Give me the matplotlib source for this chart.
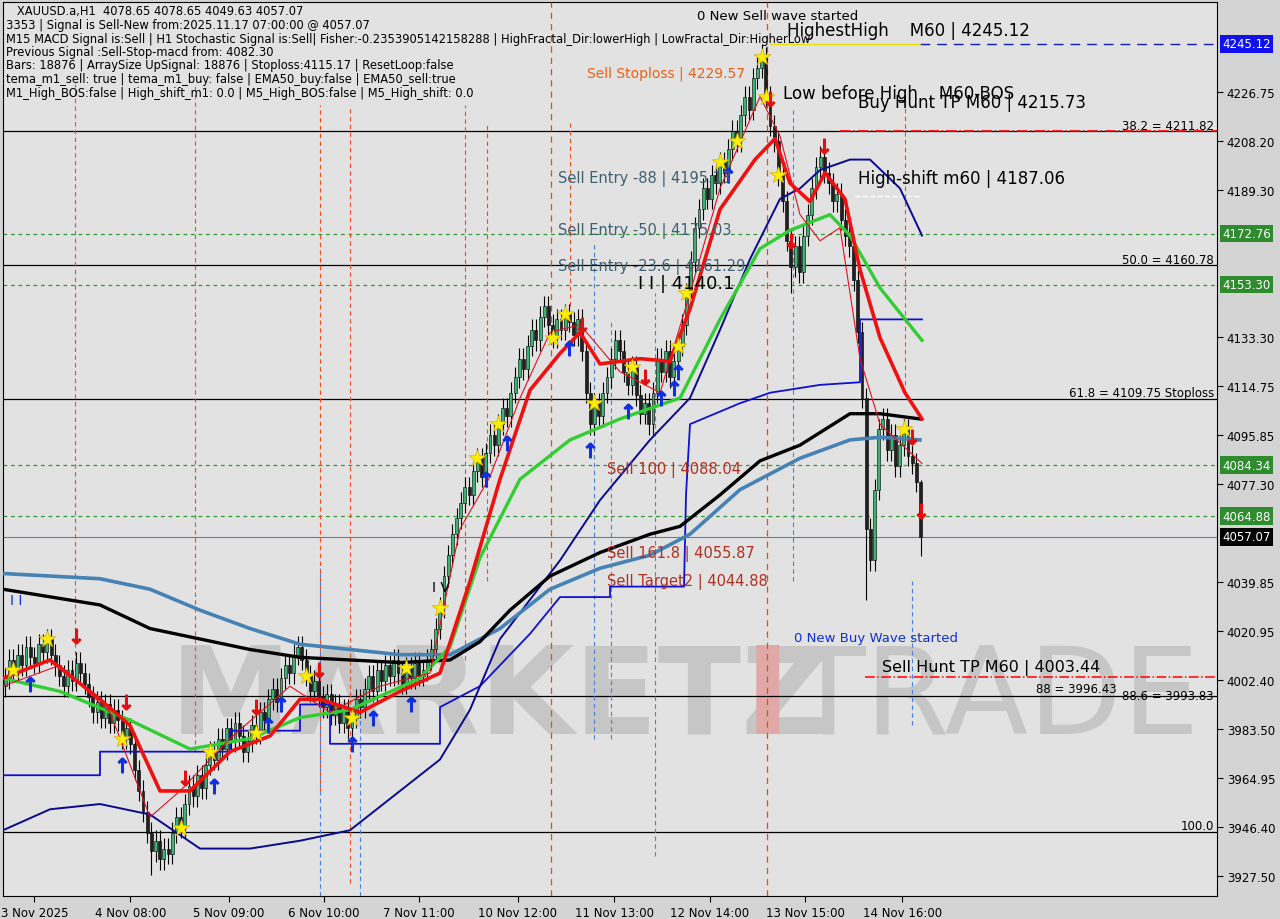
import matplotlib.pyplot as plt
import numpy as np

# hourly closes, XAUUSD H1, 3 Nov - 14 Nov 2025
closes = [
    4003, 4010, 4006, 4012, 4008, 4015, 4011, 4009, 4016, 4013,
    4018, 4012, 4008, 4004, 4000, 4006, 4002, 4009, 4005, 4001,
    3996, 3990, 3994, 3988, 3993, 3986, 3991, 3987, 3980, 3984,
    3978, 3968, 3960, 3952, 3944, 3937, 3941, 3934, 3938, 3936,
    3944, 3950, 3946, 3955, 3962, 3958, 3966, 3961, 3970, 3975,
    3972, 3980, 3976, 3984, 3979, 3986, 3981, 3975, 3979, 3985,
    3982, 3990, 3987, 3995, 3999, 3994, 4003, 4008, 4005, 4012,
    4015, 4010, 4004, 3998, 4002, 3996, 3992, 3997, 3989, 3993,
    3986, 3991, 3984, 3988, 3995, 3992, 3999, 4004, 3998, 4006,
    4002, 4008, 4004, 4010, 4005, 4001, 4007, 4003, 4009, 4004,
    4006, 4010, 4014, 4022, 4030, 4042, 4050, 4058, 4064, 4070,
    4076, 4073, 4082, 4087, 4080, 4089, 4096, 4092, 4100, 4106,
    4103, 4112, 4118, 4125, 4121, 4130, 4136, 4132, 4141, 4145,
    4138, 4133, 4140, 4136, 4142, 4139, 4134, 4140, 4128, 4112,
    4100, 4108, 4103, 4112, 4118, 4125, 4132, 4128, 4120, 4115,
    4122, 4111, 4104, 4108, 4100, 4112, 4125, 4120, 4128, 4118,
    4124, 4130, 4138, 4150, 4162, 4175, 4182, 4190, 4186, 4195,
    4192, 4200, 4196, 4205, 4212, 4208, 4218, 4225, 4220, 4232,
    4236, 4240, 4225, 4214, 4208, 4195, 4185, 4170, 4160, 4168,
    4158, 4172, 4180, 4190, 4198, 4202, 4196, 4192, 4185, 4188,
    4178, 4172, 4168, 4155, 4135, 4110, 4060, 4048, 4075, 4098,
    4102, 4090, 4096, 4084, 4092, 4098, 4088, 4085, 4078, 4057,
]
first_open = 4000
wick_spikes = {181: (4245.12, None), 35: (None, 3928), 206: (None, 4033),
               188: (None, 4150), 219: (4078.65, 4049.63)}

date_labels = ["3 Nov 2025", "4 Nov 08:00", "5 Nov 09:00", "6 Nov 10:00", "7 Nov 11:00",
               "10 Nov 12:00", "11 Nov 13:00", "12 Nov 14:00", "13 Nov 15:00", "14 Nov 16:00"]
date_bars = [7, 30, 53.6, 76.3, 99, 122.7, 145.7, 168.6, 191.4, 214.6]

price_ticks = [4226.75, 4208.20, 4189.30, 4133.30, 4114.75, 4095.85, 4077.30,
               4039.85, 4020.95, 4002.40, 3983.50, 3964.95, 3946.40, 3927.50]

# indicator lines: (pixel x, price) anchors
red_ema = [(3, 4003), (50, 4010), (100, 3995), (130, 3985), (160, 3960), (190, 3960),
           (230, 3975), (270, 3981), (300, 3995), (320, 3995), (360, 3990), (400, 3998),
           (440, 4005), (470, 4040), (500, 4079), (530, 4113), (560, 4127), (580, 4135),
           (600, 4123), (640, 4125), (670, 4124), (690, 4144), (720, 4182), (755, 4201),
           (775, 4209), (790, 4192), (810, 4185), (825, 4196), (845, 4186), (860, 4159),
           (880, 4133), (905, 4112), (922, 4102)]
green_ema = [(3, 4003), (60, 3998), (130, 3987), (190, 3976), (250, 3980), (300, 3988),
             (350, 3991), (420, 4003), (450, 4015), (480, 4049), (520, 4079), (570, 4094),
             (620, 4102), (680, 4110), (720, 4140), (760, 4167), (790, 4174), (830, 4180),
             (850, 4172), (880, 4152), (922, 4132)]
black_ma = [(3, 4037), (100, 4031), (150, 4022), (200, 4018), (250, 4014), (300, 4011),
            (350, 4010), (400, 4009), (450, 4010), (480, 4017), (510, 4029), (550, 4042),
            (600, 4051), (650, 4058), (680, 4061), (720, 4073), (760, 4086), (800, 4092),
            (850, 4104), (880, 4104), (920, 4102)]
blue_ma = [(3, 4043), (100, 4041), (150, 4037), (200, 4029), (250, 4022), (300, 4016),
           (350, 4014), (400, 4012), (450, 4012), (500, 4022), (550, 4037), (600, 4045),
           (650, 4050), (690, 4058), (740, 4075), (800, 4087), (850, 4094), (880, 4095),
           (920, 4094)]
navy_line = [(3, 3945), (50, 3953), (100, 3955), (150, 3951), (200, 3938), (250, 3938),
             (300, 3941), (350, 3945), (400, 3960), (440, 3972), (470, 3991), (500, 4018),
             (530, 4033), (560, 4048), (600, 4071), (650, 4094), (690, 4110), (720, 4136),
             (750, 4163), (780, 4186), (800, 4190), (820, 4197), (850, 4201), (870, 4201),
             (900, 4190), (922, 4172)]
blue_step = [(3, 3966), (100, 3966), (100, 3975), (230, 3975), (230, 3983), (300, 3983),
             (300, 3993), (330, 3993), (330, 3978), (440, 3978), (440, 3992), (460, 3996),
             (480, 4000), (530, 4020), (560, 4034), (610, 4034), (610, 4038), (684, 4038),
             (686, 4073), (690, 4100), (740, 4108), (770, 4112), (820, 4115), (860, 4116),
             (860, 4140), (922, 4140)]
thin_red = [(3, 4000), (60, 4008), (110, 3990), (150, 3950), (180, 3960), (230, 3980),
            (290, 4000), (330, 3990), (380, 4000), (430, 4005), (460, 4060), (490, 4080),
            (520, 4110), (550, 4135), (580, 4138), (620, 4120), (660, 4112), (690, 4150),
            (720, 4190), (760, 4225), (780, 4210), (800, 4180), (820, 4170), (840, 4175),
            (860, 4125), (880, 4100), (922, 4085)]

h_solid = [4211.82, 4160.78, 4109.75, 3996.43, 3944.40]
h_green = [4172.76, 4153.30, 4084.34, 4064.88]

star_bars = [2, 10, 28, 42, 49, 60, 72, 83, 96, 104, 113, 118, 131, 134, 141, 150, 161, 163,
             171, 175, 181, 182, 185, 215]
up_bars = [6, 28, 50, 63, 66, 83, 88, 97, 115, 120, 135, 140, 149, 157, 160, 161, 173]
down_bars = [17, 29, 43, 60, 75, 138, 153, 183, 188, 196, 217, 219]

W, H = 1280, 920
X0, X1 = 3, 1217
PX = 4.18


def px2bar(x):
    return (x - X0) / PX - 0.5


def line_xy(pts):
    return [px2bar(p[0]) for p in pts], [p[1] for p in pts]


fig = plt.figure(figsize=(12.8, 9.2), dpi=100, facecolor="#d4d4d4")
ax = fig.add_axes([X0 / W, 1 - 897 / H, (X1 - X0) / W, 894 / H])
ax.set_facecolor("#e2e2e2")
ax.set_xlim(-0.5, px2bar(X1))
ax.set_ylim(3919.9, 4261.15)

# watermark
ax.text(px2bar(170), 3995, "MARKETZ", fontsize=88, color="#c6c6c6", weight="bold",
        va="center", zorder=0, family="DejaVu Sans")
ax.text(px2bar(745), 3995, "I", fontsize=88, color="#e2a8a8", weight="bold",
        va="center", zorder=0)
ax.text(px2bar(790), 3995, "TRADE", fontsize=88, color="#c6c6c6", va="center", zorder=0)

for y in h_solid:
    ax.axhline(y, color="black", lw=0.9, zorder=1)
for y in h_green:
    ax.axhline(y, color="#2e9a2e", lw=0.9, ls=(0, (3, 3)), zorder=1)
ax.axhline(4057.07, color="#5a7fb0", lw=0.8, zorder=1)
ax.hlines(4245.12, px2bar(920), px2bar(X1), color="#1020c0", lw=1, ls=(0, (7, 5)))
ax.hlines(4245.12, px2bar(770), px2bar(920), color="#e8e000", lw=1)
ax.hlines(4211.82, px2bar(840), px2bar(X1), color="red", lw=1.2, ls="-.")
ax.hlines(4003.44, px2bar(865), px2bar(1217), color="red", lw=1.1, ls="-.")
ax.hlines(4187.06, px2bar(855), px2bar(920), color="white", lw=1, ls="--")

# vertical dashed lines
for x in [551, 767]:
    ax.axvline(px2bar(x), color="#e05010", lw=0.9, ls=(0, (5, 4)))
for x, y0, y1 in [(75, 4000, 4230), (195, 3975, 4230), (320, 3960, 4222), (350, 3925, 4222),
                  (465, 4010, 4222), (487, 4040, 4215), (570, 4145, 4215), (905, 4115, 4225)]:
    ax.vlines(px2bar(x), y0, y1, color="#f05020", lw=0.8, ls=(0, (4, 3)))
for x, y0, y1 in [(320, 3920, 4045), (360, 3920, 3990), (594, 3980, 4170), (611, 3980, 4140),
                  (655, 3935, 4150), (793, 4040, 4220), (912, 3985, 4040)]:
    ax.vlines(px2bar(x), y0, y1, color="#4a80e0", lw=0.8, ls=(0, (4, 3)))

# candles
opens = [first_open] + closes[:-1]
for i, (o, c) in enumerate(zip(opens, closes)):
    hi, lo = max(o, c) + 4, min(o, c) - 4
    if i in wick_spikes:
        sh, sl = wick_spikes[i]
        hi = sh if sh else hi
        lo = sl if sl else lo
    ax.vlines(i, lo, hi, color="black", lw=0.8, zorder=3)
    body = "#3cb371" if c >= o else "#202020"
    ax.bar(i, max(abs(c - o), 0.6), bottom=min(o, c), width=0.7, color=body,
           edgecolor="black", lw=0.4, zorder=4)

for pts, col, lw in [(blue_step, "#1010d0", 1.3), (navy_line, "#0a0a90", 1.4),
                     (blue_ma, "#4682b4", 2.6), (black_ma, "black", 2.4),
                     (green_ema, "#32cd32", 2.4), (thin_red, "#e01020", 0.8),
                     (red_ema, "#f01010", 2.6)]:
    xs, ys = line_xy(pts)
    ax.plot(xs, ys, color=col, lw=lw, zorder=5)

ax.scatter(star_bars, [closes[i] for i in star_bars], marker="*", s=160,
           color="#ffee00", edgecolor="#d0b000", lw=0.5, zorder=6)
ax.scatter(up_bars, [closes[i] - 10 for i in up_bars], marker=r"$\uparrow$", s=110,
           color="#1030e0", zorder=6)
ax.scatter(down_bars, [closes[i] + 10 for i in down_bars], marker=r"$\downarrow$", s=110,
           color="#e01010", zorder=6)

# labels on the chart
def t(x, y, s, color="black", size=10.5, ha="left"):
    ax.text(px2bar(x), y, s, color=color, fontsize=size, ha=ha, va="center", zorder=7)

t(697, 4256, "0 New Sell wave started", size=9.5)
t(787, 4250.5, "HighestHigh    M60 | 4245.12", size=12)
t(587, 4234, "Sell Stoploss | 4229.57", color="#f06010", size=10)
t(783, 4226.5, "Low before High    M60-BOS", size=12)
t(858, 4223, "Buy Hunt TP M60 | 4215.73", size=12)
t(858, 4194, "High-shift m60 | 4187.06", size=12)
t(558, 4194, "Sell Entry -88 | 4195.13", color="#406070", size=10.5)
t(558, 4174, "Sell Entry -50 | 4175.03", color="#406070", size=10.5)
t(558, 4160.5, "Sell Entry -23.6 | 4161.29", color="#406070", size=10.5)
t(638, 4154, "I I | 4140.1", size=13)
t(607, 4083, "Sell 100 | 4088.04", color="#b03020", size=10.5)
t(607, 4051, "Sell 161.8 | 4055.87", color="#b03020", size=10.5)
t(607, 4040, "Sell Target2 | 4044.88", color="#b03020", size=10.5)
t(794, 4018.5, "0 New Buy Wave started", color="#1030d0", size=9.5)
t(882, 4007.5, "Sell Hunt TP M60 | 4003.44", size=11.5)
t(432, 4038, "I V", size=10)
t(10, 4033, "I I", color="#1030d0", size=10)
t(1214, 4214, "38.2 = 4211.82", size=8.5, ha="right")
t(1214, 4163, "50.0 = 4160.78", size=8.5, ha="right")
t(1214, 4112, "61.8 = 4109.75 Stoploss", size=8.5, ha="right")
t(1117, 3999, "88 = 3996.43", size=8.5, ha="right")
t(1214, 3996.5, "88.6 = 3993.83", size=8.5, ha="right")
t(1214, 3947, "100.0", size=8.5, ha="right")

header = ["   XAUUSD.a,H1  4078.65 4078.65 4049.63 4057.07",
          "3353 | Signal is Sell-New from:2025.11.17 07:00:00 @ 4057.07",
          "M15 MACD Signal is:Sell | H1 Stochastic Signal is:Sell| Fisher:-0.2353905142158288 | HighFractal_Dir:lowerHigh | LowFractal_Dir:HigherLow",
          "Previous Signal :Sell-Stop-macd from: 4082.30",
          "Bars: 18876 | ArraySize UpSignal: 18876 | Stoploss:4115.17 | ResetLoop:false",
          "tema_m1_sell: true | tema_m1_buy: false | EMA50_buy:false | EMA50_sell:true",
          "M1_High_BOS:false | High_shift_m1: 0.0 | M5_High_BOS:false | M5_High_shift: 0.0"]
for k, line in enumerate(header):
    fig.text(6 / W, 1 - (12 + k * 13.5) / H, line, fontsize=8.3, va="center", color="black")

# axes styling
ax.set_xticks(date_bars)
ax.set_xticklabels(date_labels, fontsize=8.5)
ax.yaxis.tick_right()
ax.set_yticks(price_ticks)
ax.set_yticklabels([f"{p:.2f}" for p in price_ticks], fontsize=8.5)
ax.tick_params(length=4, pad=3)
for s in ax.spines.values():
    s.set_color("black")
    s.set_linewidth(0.8)

for y, bg in [(4245.12, "#1010f0"), (4172.76, "#2e8b2e"), (4153.30, "#2e8b2e"),
              (4084.34, "#2e8b2e"), (4064.88, "#2e8b2e"), (4057.07, "black")]:
    ax.text(px2bar(1222), y, f"{y:.2f}", fontsize=8.5, color="white", va="center",
            ha="left", zorder=8, clip_on=False,
            bbox=dict(boxstyle="square,pad=0.2", fc=bg, ec="none"))

fig.savefig("out.png", dpi=100, facecolor=fig.get_facecolor())
